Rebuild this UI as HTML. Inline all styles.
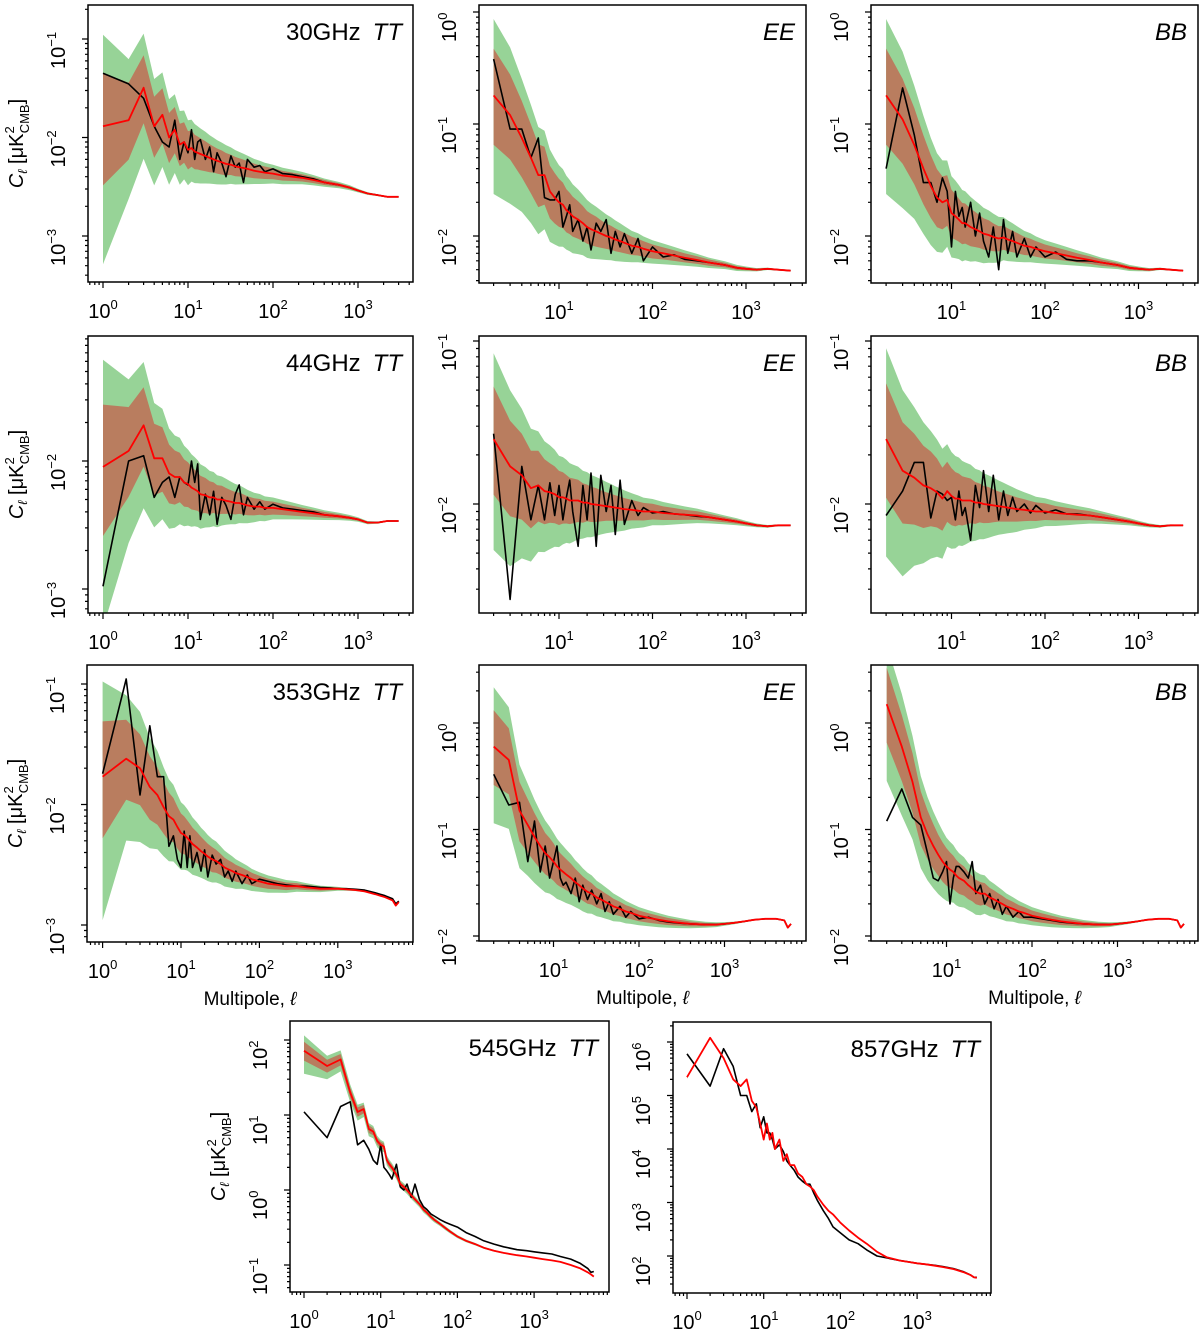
<!DOCTYPE html>
<html><head><meta charset="utf-8"><style>
html,body{margin:0;padding:0;background:#fff;}
svg{display:block;font-family:"Liberation Sans",sans-serif;}
</style></head><body>
<svg id="fig" width="1200" height="1336" viewBox="0 0 1200 1336" xmlns="http://www.w3.org/2000/svg"></svg>
<script>
const L1 = [1,2,3,4,5,6,7,8,9,10,11,12,13,14,16,18,20,22,25,28,32,36,40,45,50,60,70,80,100,130,170,220,300,400,600,800,1000,1300,1700,2200,3000];
const L2 = [1,2,3,4,5,6,7,8,9,10,11,12,13,14,16,18,20,22,25,28,32,36,40,45,50,60,70,80,100,130,170,220,300,400,600,800,1000,1300,1700,2200,3000,4000,5000,5500,6000];
const bandInUp = [.54,.38,.33,.3,.27,.25,.23,.21,.2,.19,.18,.17,.165,.16,.15,.14,.13,.125,.12,.11,.1,.095,.09,.085,.08,.072,.066,.062,.055,.048,.042,.036,.03,.025,.018,.014,.011,.008,.006,.004,.003,.002,.002,.002,.002];
const bandInDn = [.6,.4,.36,.32,.29,.26,.24,.22,.21,.2,.19,.18,.17,.165,.155,.145,.135,.13,.125,.115,.105,.1,.095,.09,.085,.076,.07,.065,.058,.05,.044,.038,.031,.026,.019,.015,.012,.009,.006,.004,.003,.002,.002,.002,.002];
const bandOutUp = [.93,.62,.55,.48,.43,.39,.36,.34,.32,.3,.29,.28,.27,.26,.245,.23,.22,.21,.2,.19,.175,.165,.155,.145,.135,.12,.11,.1,.09,.08,.07,.06,.05,.04,.03,.024,.018,.013,.009,.006,.004,.003,.003,.003,.003];
const bandOutDn = [1.4,.8,.72,.6,.53,.48,.44,.41,.38,.36,.34,.32,.31,.3,.28,.26,.25,.24,.225,.21,.195,.185,.175,.165,.155,.135,.125,.115,.1,.088,.077,.066,.055,.045,.033,.026,.02,.014,.01,.007,.005,.003,.003,.003,.003];

const red30TT = [.013,.015,.032,.013,.017,.010,.012,.0085,.009,.0075,.0078,.0072,.007,.0068,.0065,.0062,.006,.0058,.0056,.0054,.0053,.0051,.005,.0049,.0048,.0046,.0045,.0044,.0043,.0041,.0040,.0039,.0037,.0035,.0033,.0031,.0029,.0027,.0026,.0025,.0025];
const blk30TT = [.045,.035,.025,.013,.009,.008,.015,.006,.009,.007,.012,.006,.009,.0095,.006,.008,.0045,.007,.0055,.004,.0065,.005,.0055,.0035,.006,.005,.0052,.0045,.0048,.0043,.0042,.0040,.0038,.0035,.0033,.0031,.0029,.0027,.0026,.0025,.0025];
const red30EE = [null,.18,.12,.075,.05,.035,.035,.025,.022,.02,.019,.017,.016,.015,.014,.013,.012,.0115,.011,.0105,.01,.0097,.0093,.009,.0087,.0082,.008,.0077,.0073,.007,.0067,.0064,.0061,.0058,.0055,.0052,.0051,.005,.0051,.005,.0049];
const blk30EE = [null,.38,.09,.09,.05,.075,.022,.021,.021,.025,.012,.015,.019,.011,.014,.009,.012,.0075,.013,.011,.014,.007,.011,.008,.0105,.007,.0095,.006,.008,.0065,.0068,.0062,.006,.0058,.0055,.0052,.0051,.005,.0051,.005,.0049];
const red30BB = [null,.18,.11,.065,.04,.028,.022,.02,.021,.016,.015,.014,.013,.013,.012,.0115,.011,.0105,.0102,.0098,.0095,.0097,.0093,.009,.0087,.0082,.008,.0077,.0073,.007,.0067,.0064,.0061,.0058,.0055,.0052,.0051,.005,.0051,.005,.0049];
const blk30BB = [null,.04,.21,.08,.03,.03,.02,.033,.025,.008,.025,.015,.018,.012,.02,.01,.016,.009,.0065,.012,.005,.014,.007,.011,.0065,.0095,.0065,.008,.0065,.0072,.0062,.006,.006,.0058,.0055,.0052,.0051,.005,.0051,.005,.0049];
const red44TT = [.009,.012,.019,.0105,.0105,.008,.0075,.0075,.0068,.0066,.0062,.006,.0058,.0055,.0054,.0052,.0052,.005,.005,.0049,.0048,.0047,.0047,.0046,.0045,.0044,.0044,.0043,.0043,.0042,.0041,.004,.0039,.0038,.0037,.0036,.0035,.0033,.0033,.0034,.0034];
const blk44TT = [.00105,.01,.011,.0052,.0068,.0075,.0052,.0075,.0068,.0065,.01,.0068,.0095,.0035,.0055,.0038,.0058,.0032,.0052,.0045,.0035,.0055,.0065,.0038,.0052,.0042,.0048,.0042,.0046,.0043,.0042,.0041,.004,.0038,.0037,.0036,.0035,.0033,.0033,.0034,.0034];
const red44EE = [null,.025,.017,.015,.0125,.013,.012,.0118,.0115,.011,.011,.0108,.0105,.0105,.0105,.0102,.0102,.01,.0099,.0098,.0097,.0096,.0095,.0094,.0093,.0092,.0091,.009,.009,.0088,.0087,.0086,.0085,.0083,.008,.0078,.0076,.0074,.0073,.0074,.0074];
const blk44EE = [null,.027,.0026,.017,.008,.013,.008,.0135,.0085,.013,.008,.011,.014,.009,.0055,.013,.008,.0155,.0055,.015,.009,.013,.0065,.014,.0075,.0105,.0085,.0095,.0088,.009,.0087,.0086,.0084,.0083,.008,.0078,.0076,.0074,.0073,.0074,.0074];
const red44BB = [null,.025,.016,.0145,.013,.0125,.0118,.0108,.012,.0112,.0108,.0108,.0105,.0105,.0105,.0102,.0102,.01,.0099,.0098,.0097,.0096,.0095,.0094,.0093,.0092,.0091,.009,.009,.0088,.0087,.0086,.0085,.0083,.008,.0078,.0076,.0074,.0073,.0074,.0074];
const blk44BB = [null,.0085,.012,.018,.018,.0082,.012,.0115,.0105,.011,.008,.012,.0085,.0095,.006,.013,.0095,.016,.009,.015,.008,.012,.0085,.011,.009,.01,.0088,.0098,.0088,.0092,.0087,.0087,.0085,.0083,.008,.0078,.0076,.0074,.0073,.0074,.0074];
const red353TT = [.017,.024,.02,.014,.012,.0095,.008,.0075,.0065,.0058,.0056,.0053,.005,.0047,.0044,.0041,.0039,.0037,.0035,.0034,.0032,.003,.0029,.0028,.0027,.0026,.0025,.0024,.0023,.0022,.00215,.0021,.0021,.00205,.002,.002,.002,.00198,.00195,.0019,.0018,.0017,.0016,.00145,.00155];
const blk353TT = [.018,.11,.012,.045,.017,.017,.0045,.0055,.0035,.003,.006,.003,.0055,.003,.004,.0028,.0042,.0025,.0038,.0032,.0035,.0025,.0028,.0023,.0028,.0022,.0026,.0022,.0024,.0023,.0022,.00215,.0021,.0021,.00205,.00203,.002,.002,.00198,.00195,.00185,.00175,.00165,.0015,.00158];
const red353EE = [null,.6,.45,.15,.11,.085,.07,.06,.055,.05,.045,.042,.04,.038,.035,.032,.03,.028,.026,.025,.023,.022,.021,.02,.019,.018,.017,.0165,.0155,.0148,.0142,.0137,.0133,.013,.0128,.0128,.013,.0133,.0137,.0142,.0145,.0145,.014,.012,.013];
const blk353EE = [null,.33,.17,.18,.05,.12,.04,.07,.035,.05,.07,.035,.03,.032,.025,.035,.021,.03,.022,.027,.02,.025,.017,.021,.016,.019,.015,.017,.0145,.015,.014,.0135,.0132,.013,.0128,.0128,.013,.0133,.0137,.0142,.0145,.0145,.014,.012,.013];
const red353BB = [null,1.5,.6,.28,.13,.09,.07,.058,.05,.045,.042,.04,.037,.035,.033,.03,.028,.026,.025,.025,.023,.022,.021,.02,.019,.018,.017,.0165,.0155,.0148,.0142,.0137,.0133,.013,.0128,.0128,.013,.0133,.0137,.0142,.0145,.0145,.014,.012,.013];
const blk353BB = [null,.12,.24,.13,.11,.06,.035,.033,.04,.05,.02,.035,.045,.045,.04,.035,.05,.025,.03,.02,.025,.018,.022,.016,.019,.015,.017,.015,.015,.0145,.014,.0135,.0132,.013,.0128,.0128,.013,.0133,.0137,.0142,.0145,.0145,.014,.012,.013];
const red545TT = [72,45,55,20,11,12,6.5,6,4.5,4,3.8,2.5,2.2,2,1.6,1.2,1.1,1.0,.85,.75,.65,.55,.5,.44,.4,.35,.31,.28,.24,.21,.19,.17,.155,.145,.135,.13,.125,.12,.115,.11,.1,.09,.08,.075,.07];
const blk545TT = [11,5,13,15,4,4.6,3.5,2.5,2.2,4,2,1.8,1.6,1.4,2.2,1.1,1.0,1.2,.8,1.2,.75,.6,.55,.48,.45,.4,.37,.35,.32,.27,.24,.21,.19,.175,.16,.155,.15,.145,.14,.13,.12,.105,.09,.08,.082];
const red857TT = [2.2e5,1.2e6,5e5,2e5,1.5e5,2e5,8e4,6e4,3e4,1.5e4,3e4,1.5e4,2e4,1e4,1.5e4,6e3,8e3,5e3,5e3,3.5e3,3e3,2.2e3,2e3,1.7e3,1.3e3,900,700,600,420,300,220,170,120,95,82,77,73,70,66,62,57,50,44,40,39];
const blk857TT = [6e5,1.5e5,7.5e5,3.5e5,1e5,1e5,5e4,7e4,2.5e4,4e4,2e4,2e4,1.5e4,1e4,1.2e4,9e3,6e3,5e3,4e3,3e3,2.5e3,2.2e3,2.2e3,1.5e3,1.1e3,700,500,350,270,200,170,130,100,92,82,77,73,70,67,63,58,51,44,40,40];

const panels = [
 {id:'30ghz-tt',f:[88,5,325,277],x:[0,103,85],y:[-1,39,98.5],yl:[-1,-2,-3],xl:[0,1,2,3],ell:L1,red:red30TT,blk:blk30TT,bs:1.0,t:'30GHz',s:'TT',yt:true},
 {id:'30ghz-ee',f:[479,5,327,278],x:[1,559,93.5],y:[0,12,112],yl:[0,-1,-2],xl:[1,2,3],ell:L1,red:red30EE,blk:blk30EE,bs:1.1,t:'',s:'EE'},
 {id:'30ghz-bb',f:[871,5,327,278],x:[1,951.5,93.5],y:[0,12,112],yl:[0,-1,-2],xl:[1,2,3],ell:L1,red:red30BB,blk:blk30BB,bs:1.1,t:'',s:'BB'},
 {id:'44ghz-tt',f:[88,336,325,277],x:[0,103,85],y:[-2,461,128],yl:[-2,-3],xl:[0,1,2,3],ell:L1,red:red44TT,blk:blk44TT,bs:0.9,t:'44GHz',s:'TT',yt:true},
 {id:'44ghz-ee',f:[479,336,327,277],x:[1,559,93.5],y:[-1,341,163],yl:[-1,-2],xl:[1,2,3],ell:L1,red:red44EE,blk:blk44EE,bs:0.85,t:'',s:'EE'},
 {id:'44ghz-bb',f:[871,336,327,277],x:[1,951.5,93.5],y:[-1,341,163],yl:[-1,-2],xl:[1,2,3],ell:L1,red:red44BB,blk:blk44BB,bs:0.9,t:'',s:'BB'},
 {id:'353ghz-tt',f:[87,665,326,277],x:[0,102.6,78.4],y:[-1,684,120.5],yl:[-1,-2,-3],xl:[0,1,2,3],ell:L2,red:red353TT,blk:blk353TT,bs:0.85,t:'353GHz',s:'TT',yt:true,mp:true},
 {id:'353ghz-ee',f:[479,665,327,276],x:[1,553.5,85.5],y:[0,723,106.5],yl:[0,-1,-2],xl:[1,2,3],ell:L2,red:red353EE,blk:blk353EE,bs:0.9,t:'',s:'EE',mp:true},
 {id:'353ghz-bb',f:[871,665,327,276],x:[1,946.5,85.5],y:[0,723,106.5],yl:[0,-1,-2],xl:[1,2,3],ell:L2,red:red353BB,blk:blk353BB,bs:0.9,t:'',s:'BB',mp:true},
 {id:'545ghz-tt',f:[290,1021,319,271],x:[0,304,76.7],y:[2,1040,75],yl:[2,1,0,-1],xl:[0,1,2,3],ell:L2,red:red545TT,blk:blk545TT,bs:0.22,t:'545GHz',s:'TT',yt:true},
 {id:'857ghz-tt',f:[673,1022,318,271],x:[0,687,76.7],y:[6,1042,53.5],yl:[6,5,4,3,2],xl:[0,1,2,3],ell:L2,red:red857TT,blk:blk857TT,bs:0.02,t:'857GHz',s:'TT'}
];

const NS='http://www.w3.org/2000/svg';
const svg=document.getElementById('fig');
function mk(tag,attrs,parent){const e=document.createElementNS(NS,tag);for(const k in attrs)e.setAttribute(k,attrs[k]);(parent||svg).appendChild(e);return e;}
const sup={'-':'\u2212','0':'0','1':'1','2':'2','3':'3','4':'4','5':'5','6':'6'};
function expStr(k){return String(k).split('').map(c=>sup[c]).join('');}

panels.forEach((p,pi)=>{
  const [fx,fy,fw,fh]=p.f;
  const X=l=>p.x[1]+(Math.log10(l)-p.x[0])*p.x[2];
  const Y=v=>p.y[1]-(Math.log10(v)-p.y[0])*p.y[2];
  const g=mk('g',{});
  
  
  const cp=mk('clipPath',{id:'clip'+pi},g);
  mk('rect',{x:fx,y:fy,width:fw,height:fh},cp);
  const plot=mk('g',{'clip-path':'url(#clip'+pi+')'},g);
  // bands
  function band(up,dn,fill,name){
    const top=[],bot=[];
    p.ell.forEach((l,i)=>{const r=p.red[i];if(r==null)return;
      top.push(X(l).toFixed(1)+','+Y(r*Math.pow(10,up[i]*p.bs)).toFixed(1));
      bot.unshift(X(l).toFixed(1)+','+Y(r/Math.pow(10,dn[i]*p.bs)).toFixed(1));});
    const e=mk('polygon',{points:top.concat(bot).join(' '),fill:fill,stroke:'none'},plot);
    
    
  }
  band(bandOutUp,bandOutDn,'#97d397','outer-band');
  band(bandInUp,bandInDn,'#b97d5f','inner-band');
  function line(vals,col,w,name){
    const pts=[];p.ell.forEach((l,i)=>{if(vals[i]!=null)pts.push(X(l).toFixed(1)+','+Y(vals[i]).toFixed(1));});
    const e=mk('polyline',{points:pts.join(' '),fill:'none',stroke:col,'stroke-width':w,'stroke-linejoin':'round'},plot);
    
    
  }
  line(p.blk,'#000',1.6,'data-spectrum-line');
  line(p.red,'#f00',1.8,'model-spectrum-line');
  // frame
  const fr=mk('rect',{x:fx,y:fy,width:fw,height:fh,fill:'none',stroke:'#000','stroke-width':1.5},g);
  
  
  // x ticks
  const xmin=p.x[0]+(fx-p.x[1])/p.x[2], xmax=p.x[0]+(fx+fw-p.x[1])/p.x[2];
  let tk='';
  for(let k=Math.floor(xmin);k<=Math.ceil(xmax);k++){for(let m=1;m<10;m++){const lv=k+Math.log10(m);if(lv<xmin||lv>xmax)continue;
    const px=p.x[1]+(lv-p.x[0])*p.x[2];const len=m==1?6:3;tk+=`M${px.toFixed(1)},${fy+fh}v${len}`;}}
  const ymax=p.y[0]+(p.y[1]-fy)/p.y[2], ymin=p.y[0]+(p.y[1]-fy-fh)/p.y[2];
  for(let k=Math.floor(ymin);k<=Math.ceil(ymax);k++){for(let m=1;m<10;m++){const lv=k+Math.log10(m);if(lv<ymin||lv>ymax)continue;
    const py=p.y[1]-(lv-p.y[0])*p.y[2];const len=m==1?6:3;tk+=`M${fx},${py.toFixed(1)}h${-len}`;}}
  const te=mk('path',{d:tk,stroke:'#000','stroke-width':1.2,fill:'none'},g);
  
  
  p.xl.forEach(k=>{
    const t=mk('text',{x:(p.x[1]+(k-p.x[0])*p.x[2]).toFixed(1),y:fy+fh+36,'font-size':20,'text-anchor':'middle'},g);
    
    
    t.innerHTML='10<tspan font-size="13" dy="-9">'+expStr(k)+'</tspan>';
  });
  p.yl.forEach(k=>{
    const py=p.y[1]-(k-p.y[0])*p.y[2]; const bx=fx-23;
    const t=mk('text',{x:0,y:0,'font-size':20,transform:`translate(${bx},${(py+30).toFixed(1)}) rotate(-90)`},g);
    
    
    t.innerHTML='10<tspan font-size="13" dy="-9">'+expStr(k)+'</tspan>';
  });
  // title
  const tt=mk('text',{x:fx+fw-11,y:fy+35,'font-size':24,'text-anchor':'end'},g);
  
  
  tt.innerHTML=(p.t?p.t+'\u2002':'')+'<tspan font-style="italic">'+p.s+'</tspan>';
  if(p.yt){
    const cx=fx-65, cy=fy+fh/2;
    const yt=mk('text',{x:0,y:0,'font-size':20,'text-anchor':'middle',transform:`translate(${cx},${cy}) rotate(-90)`},g);
    
    
    yt.innerHTML='<tspan font-style="italic">C</tspan><tspan font-size="13" font-style="italic" dy="4">\u2113</tspan><tspan dy="-4"> [\u03bcK</tspan><tspan font-size="13" dy="-9">2</tspan><tspan font-size="13" dx="-7" dy="15">CMB</tspan><tspan dy="-6">]</tspan>';
  }
  if(p.mp){
    const mt=mk('text',{x:fx+fw/2,y:fy+fh+63,'font-size':19,'text-anchor':'middle'},g);
    
    
    mt.innerHTML='Multipole, <tspan font-style="italic">\u2113</tspan>';
  }
});
</script>
</body></html>
